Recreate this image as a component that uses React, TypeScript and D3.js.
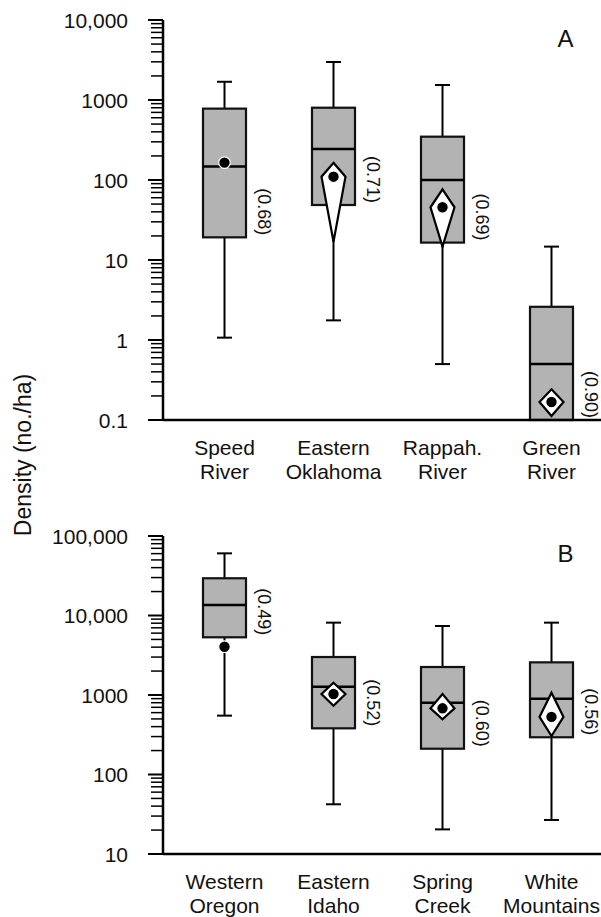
import React from "react";
import * as d3 from "d3";

const labelsA = [["Speed", "River"], ["Eastern", "Oklahoma"], ["Rappah.", "River"], ["Green", "River"]];
const whiskerLowA = [1.07, 1.76, 0.5, 0.1];
const q1A = [19.2, 48.7, 16.5, 0.1];
const medianA = [147, 244, 100, 0.5];
const q3A = [780, 801, 348, 2.6];
const whiskerHighA = [1690, 2985, 1540, 14.7];
const meanA = [165, 110, 45.6, 0.168];
const ciLowA: (number | null)[] = [null, 16.9, 14.7, 0.112];
const ciHighA: (number | null)[] = [null, 164, 76.4, 0.242];
const cvA = ["(0.68)", "(0.71)", "(0.69)", "(0.90)"];
const tickValsA = [0.1, 1, 10, 100, 1000, 10000];
const tickLabelsA = ["0.1", "1", "10", "100", "1000", "10,000"];

const labelsB = [["Western", "Oregon"], ["Eastern", "Idaho"], ["Spring", "Creek"], ["White", "Mountains"]];
const whiskerLowB = [550, 42.2, 20.4, 26.8];
const q1B = [5320, 381, 211, 294];
const medianB = [13550, 1273, 800, 899];
const q3B = [29400, 3005, 2250, 2575];
const whiskerHighB = [60500, 8130, 7380, 8130];
const meanB = [4050, 1030, 680, 530];
const ciLowB: (number | null)[] = [null, 733, 494, 305];
const ciHighB: (number | null)[] = [null, 1428, 1030, 1069];
const cvB = ["(0.49)", "(0.52)", "(0.60)", "(0.56)"];
const tickValsB = [10, 100, 1000, 10000, 100000];
const tickLabelsB = ["10", "100", "1000", "10,000", "100,000"];

const FONT = "'Liberation Sans', Arial, sans-serif";
const AXIS_X = 163;
const RIGHT = 601;
const BOX_HALF = 21.5;
const CAP_HALF = 7.5;
const KITE_HALF = 12;

type PanelProps = {
  labels: string[][];
  wLo: number[];
  q1: number[];
  med: number[];
  q3: number[];
  wHi: number[];
  mean: number[];
  ciLo: (number | null)[];
  ciHi: (number | null)[];
  cv: string[];
  tickVals: number[];
  tickLabels: string[];
  domain: [number, number];
  yRange: [number, number];
  letter: string;
  letterY: number;
};

function Panel(p: PanelProps) {
  const y = d3.scaleLog().domain(p.domain).range(p.yRange);
  const keys = p.labels.map((l) => l.join(" "));
  const x = d3.scalePoint<string>().domain(keys).range([224.5, 551.5]);
  const allTicks = y.ticks();
  const bottom = p.yRange[0];
  const top = p.yRange[1];
  return (
    <g>
      {allTicks.map((t, i) => {
        const major = Math.abs(Math.log10(t) - Math.round(Math.log10(t))) < 1e-9;
        return (
          <line
            key={"t" + i}
            x1={major ? AXIS_X - 15 : AXIS_X - 12}
            x2={AXIS_X}
            y1={y(t)}
            y2={y(t)}
            stroke="#000"
            strokeWidth={major ? 2 : 1.5}
          />
        );
      })}
      {p.tickVals.map((t, i) => (
        <text
          key={"tl" + i}
          x={128}
          y={y(t)}
          textAnchor="end"
          dominantBaseline="central"
          fontSize={21}
          fontFamily={FONT}
          fill="#111"
        >
          {p.tickLabels[i]}
        </text>
      ))}
      <line x1={AXIS_X} x2={AXIS_X} y1={top} y2={bottom} stroke="#000" strokeWidth={2.5} />
      {keys.map((k, i) => {
        const cx = x(k) as number;
        const yq1 = y(p.q1[i]);
        const yq3 = y(p.q3[i]);
        const ym = y(p.mean[i]);
        const lo = p.ciLo[i];
        const hi = p.ciHi[i];
        return (
          <g key={"b" + i}>
            <line x1={cx} x2={cx} y1={y(p.wHi[i])} y2={yq3} stroke="#000" strokeWidth={2} />
            <line x1={cx - CAP_HALF} x2={cx + CAP_HALF} y1={y(p.wHi[i])} y2={y(p.wHi[i])} stroke="#000" strokeWidth={2} />
            {p.wLo[i] < p.q1[i] && (
              <>
                <line x1={cx} x2={cx} y1={yq1} y2={y(p.wLo[i])} stroke="#000" strokeWidth={2} />
                <line x1={cx - CAP_HALF} x2={cx + CAP_HALF} y1={y(p.wLo[i])} y2={y(p.wLo[i])} stroke="#000" strokeWidth={2} />
              </>
            )}
            <rect
              x={cx - BOX_HALF}
              y={yq3}
              width={BOX_HALF * 2}
              height={yq1 - yq3}
              fill="#b3b3b3"
              stroke="#111"
              strokeWidth={2.2}
            />
            <line x1={cx - BOX_HALF} x2={cx + BOX_HALF} y1={y(p.med[i])} y2={y(p.med[i])} stroke="#000" strokeWidth={2.5} />
            {lo !== null && hi !== null && (
              <path
                d={`M${cx},${y(hi)} L${cx + KITE_HALF},${ym} L${cx},${y(lo)} L${cx - KITE_HALF},${ym} Z`}
                fill="#fff"
                stroke="#000"
                strokeWidth={2.2}
                strokeLinejoin="miter"
              />
            )}
            <circle cx={cx} cy={ym} r={5.8} fill="#000" stroke="#fff" strokeWidth={1.2} />
            <text
              transform={`translate(${cx + 39.5},${yq1 - 2}) rotate(90)`}
              textAnchor="end"
              dominantBaseline="central"
              fontSize={18}
              fontFamily={FONT}
              fill="#111"
            >
              {p.cv[i]}
            </text>
            {p.labels[i].map((line, j) => (
              <text
                key={j}
                x={cx}
                y={bottom + 35 + j * 24}
                textAnchor="middle"
                fontSize={21}
                fontFamily={FONT}
                fill="#111"
              >
                {line}
              </text>
            ))}
          </g>
        );
      })}
      <line x1={AXIS_X} x2={RIGHT} y1={bottom} y2={bottom} stroke="#000" strokeWidth={2.5} />
      <text x={565.5} y={p.letterY} textAnchor="middle" fontSize={24} fontFamily={FONT} fill="#111">
        {p.letter}
      </text>
    </g>
  );
}

export default function App() {
  return (
    <svg
      width={601}
      height={917}
      style={{ position: "absolute", left: 0, top: 0, background: "#fff" }}
    >
      <rect x={0} y={0} width={601} height={917} fill="#fff" />
      <Panel
        labels={labelsA}
        wLo={whiskerLowA}
        q1={q1A}
        med={medianA}
        q3={q3A}
        wHi={whiskerHighA}
        mean={meanA}
        ciLo={ciLowA}
        ciHi={ciHighA}
        cv={cvA}
        tickVals={tickValsA}
        tickLabels={tickLabelsA}
        domain={[0.1, 10000]}
        yRange={[420, 20]}
        letter="A"
        letterY={47}
      />
      <Panel
        labels={labelsB}
        wLo={whiskerLowB}
        q1={q1B}
        med={medianB}
        q3={q3B}
        wHi={whiskerHighB}
        mean={meanB}
        ciLo={ciLowB}
        ciHi={ciHighB}
        cv={cvB}
        tickVals={tickValsB}
        tickLabels={tickLabelsB}
        domain={[10, 100000]}
        yRange={[854, 536]}
        letter="B"
        letterY={562}
      />
      <text
        transform="translate(31,455) rotate(-90)"
        textAnchor="middle"
        fontSize={23}
        fontFamily={FONT}
        fill="#111"
      >
        Density (no./ha)
      </text>
    </svg>
  );
}
